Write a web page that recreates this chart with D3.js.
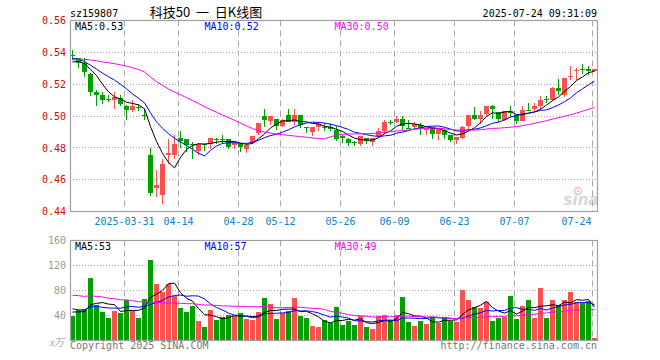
<!DOCTYPE html>
<html><head><meta charset="utf-8">
<script src="https://cdn.jsdelivr.net/npm/d3@7"></script>
<style>
html,body{margin:0;padding:0;background:#fff;}
svg{display:block;}
text{font-family:"DejaVu Sans Mono",monospace;font-size:10px;}
</style></head><body>
<svg id="c" width="660" height="360"></svg>
<script>
const dates = ["2025-03-18","2025-03-19","2025-03-20","2025-03-21","2025-03-24","2025-03-25","2025-03-26","2025-03-27","2025-03-28","2025-03-31",
"2025-04-01","2025-04-02","2025-04-03","2025-04-07","2025-04-08","2025-04-09","2025-04-10","2025-04-11","2025-04-14","2025-04-15",
"2025-04-16","2025-04-17","2025-04-18","2025-04-21","2025-04-22","2025-04-23","2025-04-24","2025-04-25","2025-04-28","2025-04-29",
"2025-04-30","2025-05-06","2025-05-07","2025-05-08","2025-05-09","2025-05-12","2025-05-13","2025-05-14","2025-05-15","2025-05-16",
"2025-05-19","2025-05-20","2025-05-21","2025-05-22","2025-05-23","2025-05-26","2025-05-27","2025-05-28","2025-05-29","2025-05-30",
"2025-06-03","2025-06-04","2025-06-05","2025-06-06","2025-06-09","2025-06-10","2025-06-11","2025-06-12","2025-06-13","2025-06-16",
"2025-06-17","2025-06-18","2025-06-19","2025-06-20","2025-06-23","2025-06-24","2025-06-25","2025-06-26","2025-06-27","2025-06-30",
"2025-07-01","2025-07-02","2025-07-03","2025-07-04","2025-07-07","2025-07-08","2025-07-09","2025-07-10","2025-07-11","2025-07-14",
"2025-07-15","2025-07-16","2025-07-17","2025-07-18","2025-07-21","2025-07-22","2025-07-23","2025-07-24"];

const open = [.5382,.5363,.5331,.5265,.5152,.5133,.5104,.5098,.5115,.5065,
.5035,.5058,.5004,.4752,.4548,.4504,.4754,.4754,.4863,.4856,
.4823,.4779,.4823,.4821,.4854,.4854,.4856,.4816,.4827,.4794,
.4831,.4894,.5002,.4966,.4981,.4935,.5004,.4962,.5004,.4929,
.4900,.4931,.4931,.4933,.4914,.4877,.4858,.4837,.4827,.4862,
.4835,.4873,.4904,.4963,.4962,.4983,.4927,.4931,.4946,.4914,
.4931,.4887,.4910,.4879,.4848,.4862,.4940,.5004,.4983,.5015,
.5065,.5025,.4977,.5033,.5004,.4967,.5040,.5046,.5065,.5104,
.5102,.5179,.5133,.5250,.5288,.5294,.5294,.5283];

const high = [.5412,.5366,.5363,.5268,.5165,.5152,.5133,.5152,.5133,.5068,
.5102,.5077,.5042,.4800,.4658,.4727,.4856,.4883,.4908,.4858,
.4835,.4831,.4825,.4863,.4863,.4879,.4858,.4837,.4829,.4827,
.4877,.4958,.5046,.4998,.4983,.4981,.5046,.5046,.5006,.4931,
.4931,.4960,.4956,.4956,.4939,.4879,.4860,.4846,.4873,.4864,
.4862,.4923,.4977,.4977,.5002,.5002,.4977,.4962,.4956,.4927,
.4933,.4921,.4921,.4881,.4867,.4935,.5004,.5054,.5029,.5065,
.5067,.5027,.5033,.5065,.5006,.5065,.5081,.5081,.5123,.5123,
.5185,.5231,.5238,.5315,.5300,.5327,.5315,.5294];

const low = [.5350,.5300,.5248,.5123,.5060,.5077,.5090,.5046,.5065,.4977,
.5023,.5031,.4977,.4498,.4492,.4450,.4696,.4727,.4800,.4773,
.4727,.4758,.4779,.4794,.4821,.4827,.4794,.4794,.4775,.4769,
.4821,.4883,.4929,.4941,.4910,.4929,.4962,.4941,.4925,.4894,
.4873,.4904,.4904,.4904,.4842,.4831,.4810,.4810,.4810,.4821,
.4810,.4862,.4889,.4946,.4956,.4914,.4925,.4925,.4879,.4879,
.4858,.4852,.4858,.4835,.4821,.4854,.4908,.4977,.4952,.5002,
.4983,.4963,.4967,.4992,.4950,.4967,.5033,.5029,.5044,.5081,
.5096,.5129,.5117,.5227,.5227,.5263,.5258,.5279];

const close = [.5379,.5331,.5279,.5148,.5135,.5102,.5100,.5119,.5077,.5035,
.5065,.5054,.4998,.4517,.4565,.4696,.4765,.4827,.4846,.4815,
.4819,.4821,.4820,.4863,.4850,.4852,.4806,.4831,.4806,.4816,
.4877,.4958,.4977,.4998,.4935,.4977,.4962,.5004,.4946,.4927,
.4929,.4948,.4927,.4921,.4858,.4860,.4833,.4833,.4873,.4842,
.4862,.4906,.4964,.4960,.4983,.4935,.4925,.4948,.4925,.4927,
.4887,.4921,.4879,.4848,.4867,.4929,.5004,.4983,.5004,.5065,
.5046,.4983,.5029,.5019,.4967,.5040,.5036,.5065,.5102,.5100,
.5179,.5154,.5238,.5254,.5290,.5292,.5283,.5294];

// volume in 万
const volume = [39.3,49.0,51.1,100.2,57.3,45.8,36.7,47.3,44.7,65.0,
47.3,36.7,66.6,129.0,90.6,77.8,90.6,71.3,52.2,45.8,
55.3,31.3,21.8,49.0,33.0,37.8,40.3,39.3,44.2,34.3,
33.0,45.8,68.2,58.6,34.3,43.3,46.8,68.2,39.3,36.2,
23.3,21.8,32.3,27.6,53.8,25.0,31.3,25.0,39.3,21.8,
18.6,39.3,41.0,33.0,41.0,69.8,29.8,23.3,31.3,26.6,
37.8,28.2,37.8,31.3,29.8,81.5,65.0,53.8,52.2,61.8,
31.3,36.2,37.8,71.3,34.3,55.3,65.0,36.2,84.2,36.2,
65.0,57.0,65.0,77.8,61.8,60.2,63.3,4.0];

// earlier sessions (before the visible window), estimated from where the MA lines start
const priorClose = [.522,.525,.530,.528,.531,.526,.529,.530,.5286,
.535,.540,.545,.548,.543,.539,.546,.542,.5353,
.535,.5349,.540,.542,.538,.537,.536,.532,.534,.533,.533];
const priorVolume = [72,85,70,88,75,90,78,95,70,85,80,83,125,110,98,110,72,60,65,58,63,55,48,52,60,47,50,45,46];

const priceTicks = [0.44,0.46,0.48,0.50,0.52,0.54,0.56];
const volTicks = [40,80,120,160];
const tickDates = ["2025-03-31","2025-04-14","2025-04-28","2025-05-12","2025-05-26","2025-06-09","2025-06-23","2025-07-07","2025-07-24"];
const tickLabels = ["2025-03-31","04-14","04-28","05-12","05-26","06-09","06-23","07-07","07-24"];
const priceLegend = ["MA5:0.53","MA10:0.52","MA30:0.50"];
const volLegend = ["MA5:53","MA10:57","MA30:49"];
const maPeriods = [5,10,30];
const maColors = ["#000000","#0000ff","#ff00ff"];

const RED = "#fa5050", GREEN = "#00a000", GRID = "#a8a8a8", BORDER = "#a0a0a0";

const svg = d3.select("#c");
const L = 70, R = 597;
const x = d3.scaleBand().domain(dates).range([L, R]).paddingInner(1/6).paddingOuter(0);
const cx = d => x(d) + x.bandwidth() / 2;
const yP = d3.scaleLinear().domain([0.44, 0.56]).range([211.5, 20.5]);
const yV = d3.scaleLinear().domain([0, 160]).range([340.5, 240.5]);

function ma(prior, vals, n) {
  const all = prior.concat(vals), off = prior.length;
  return vals.map((v, i) => d3.mean(all.slice(off + i - n + 1, off + i + 1)));
}

// header
svg.append("text").attr("x", L).attr("y", 16.5).attr("fill", "#000").text("sz159807");
svg.append("text").attr("x", 206).attr("y", 17).attr("text-anchor", "middle")
  .style("font-family", "'Noto Sans CJK SC',sans-serif").style("font-size", "13px").style("white-space", "pre")
  .attr("fill", "#000").text("科技50  一  日K线图");
svg.append("text").attr("x", R).attr("y", 16.5).attr("text-anchor", "end").attr("fill", "#000").text("2025-07-24 09:31:09");

// grids
function grids(y0, y1, hTicks, yScale) {
  const g = svg.append("g");
  g.selectAll("line.h").data(hTicks).join("line")
    .attr("x1", L).attr("x2", R + 1).attr("y1", d => Math.round(yScale(d) - 0.5) + 0.5).attr("y2", d => Math.round(yScale(d) - 0.5) + 0.5)
    .attr("stroke", GRID).attr("stroke-dasharray", "1,2");
  g.selectAll("line.v").data(tickDates).join("line")
    .attr("x1", d => x(d) + 0.5).attr("x2", d => x(d) + 0.5).attr("y1", y0).attr("y2", y1)
    .attr("stroke", GRID).attr("stroke-dasharray", "6,4");
}
grids(20.5, 211.5, [0.46, 0.48, 0.50, 0.52, 0.54], yP);
grids(240.5, 340.5, [40, 80, 120], yV);

// watermark
const wm = svg.append("g").attr("opacity", 0.5);
wm.append("circle").attr("cx", 578).attr("cy", 191).attr("r", 3.5).attr("fill", "none").attr("stroke", "#f08080").attr("stroke-width", 1.5);
wm.append("circle").attr("cx", 578).attr("cy", 191).attr("r", 1.2).attr("fill", "#f08080");
wm.append("text").attr("x", 581).attr("y", 205).attr("text-anchor", "middle")
  .style("font-family", "'DejaVu Sans',sans-serif").style("font-size", "15px").style("font-style", "italic").style("font-weight", "bold")
  .attr("fill", "#b0b0b0").text("sina");

// volume bars
const idx = d3.range(dates.length);
svg.append("g").selectAll("rect").data(idx).join("rect")
  .attr("x", i => x(dates[i])).attr("width", x.bandwidth())
  .attr("y", i => yV(volume[i])).attr("height", i => yV(0) - yV(volume[i]))
  .attr("fill", i => close[i] >= open[i] ? RED : GREEN).attr("shape-rendering", "crispEdges");

// candles
const cg = svg.append("g");
cg.selectAll("line").data(idx).join("line")
  .attr("x1", i => cx(dates[i])).attr("x2", i => cx(dates[i]))
  .attr("y1", i => yP(high[i])).attr("y2", i => yP(low[i]))
  .attr("stroke", i => close[i] >= open[i] ? RED : GREEN).attr("shape-rendering", "crispEdges");
cg.selectAll("rect").data(idx).join("rect")
  .attr("x", i => x(dates[i])).attr("width", x.bandwidth())
  .attr("y", i => yP(Math.max(open[i], close[i])))
  .attr("height", i => Math.max(1, Math.abs(yP(open[i]) - yP(close[i]))))
  .attr("fill", i => close[i] >= open[i] ? RED : GREEN).attr("shape-rendering", "crispEdges");

// MA lines
maPeriods.forEach((n, k) => {
  const pm = ma(priorClose, close, n);
  svg.append("path").datum(pm).attr("fill", "none").attr("stroke", maColors[k]).attr("stroke-width", 1)
    .attr("d", d3.line().x((d, i) => cx(dates[i])).y(d => yP(d)));
  const vm = ma(priorVolume, volume, n);
  svg.append("path").datum(vm).attr("fill", "none").attr("stroke", maColors[k]).attr("stroke-width", 1)
    .attr("d", d3.line().x((d, i) => cx(dates[i])).y(d => yV(d)));
});

// borders
[[20.5, 211.5], [240.5, 340.5]].forEach(([t, b]) => {
  svg.append("rect").attr("x", L + 0.5).attr("y", t).attr("width", R - L).attr("height", b - t)
    .attr("fill", "none").attr("stroke", BORDER).attr("stroke-width", 1.2);
});

// axes
const ay = svg.append("g").attr("transform", `translate(${L},0)`)
  .call(d3.axisLeft(yP).tickValues(priceTicks).tickFormat(d3.format(".2f")).tickSize(0).tickPadding(4));
ay.select(".domain").remove();
ay.selectAll("text").attr("fill", "#e00000").style("font-family", "'DejaVu Sans Mono',monospace").style("font-size", "10px");

const av = svg.append("g").attr("transform", `translate(${L},0)`)
  .call(d3.axisLeft(yV).tickValues(volTicks).tickFormat(d3.format("d")).tickSize(0).tickPadding(4));
av.select(".domain").remove();
av.selectAll("text").attr("fill", "#999").style("font-family", "'DejaVu Sans Mono',monospace").style("font-size", "10px");

const ax = svg.append("g").attr("transform", `translate(-2,211.5)`)
  .call(d3.axisBottom(x).tickValues(tickDates).tickFormat(d => tickLabels[tickDates.indexOf(d)]).tickSize(0).tickPadding(6.5));
ax.select(".domain").remove();
ax.selectAll("text").attr("fill", "#0a84c8").style("font-family", "'DejaVu Sans Mono',monospace").style("font-size", "10px");
// keep the last label inside the panel
ax.selectAll(".tick").filter(d => d === tickDates[tickDates.length - 1]).select("text")
  .attr("text-anchor", "end").attr("x", -1);

svg.append("text").attr("x", 64).attr("y", 346).attr("text-anchor", "end")
  .style("font-family", "'Noto Sans CJK SC',sans-serif").style("font-size", "10px").style("font-style", "italic")
  .attr("fill", "#aaa").text("x万");

// legends
const legX = [75, 204.5, 334.5];
priceLegend.forEach((t, k) => svg.append("text").attr("x", legX[k]).attr("y", 29.5).attr("fill", maColors[k]).text(t));
volLegend.forEach((t, k) => svg.append("text").attr("x", legX[k]).attr("y", 250).attr("fill", maColors[k]).text(t));

// footer
svg.append("text").attr("x", L).attr("y", 349).attr("fill", "#777").text("Copyright 2025 SINA.COM");
svg.append("text").attr("x", R).attr("y", 349).attr("text-anchor", "end").attr("fill", "#777").text("http://finance.sina.com.cn");
</script>
</body></html>
